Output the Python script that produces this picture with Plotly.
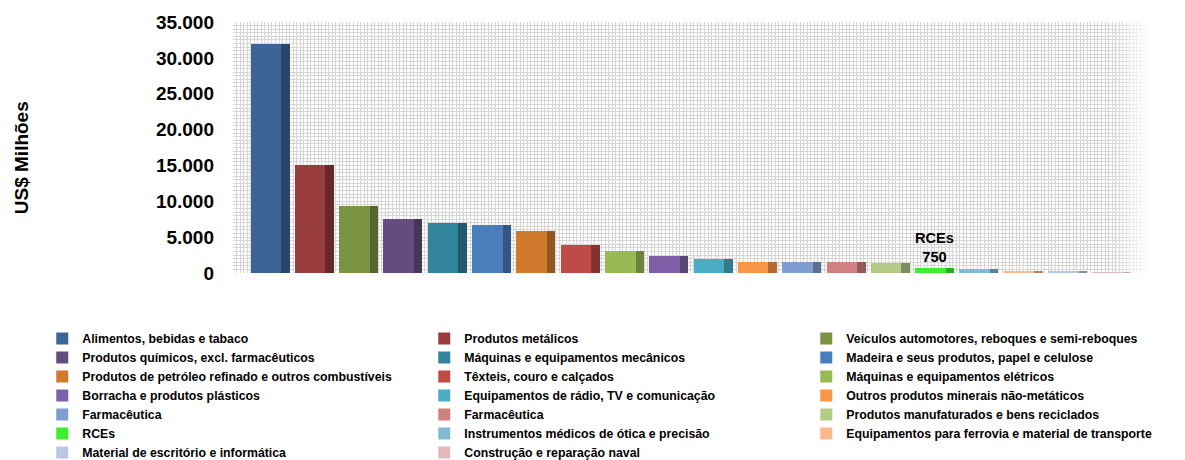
import plotly.graph_objects as go

# Sectors, in the order the bars are drawn (largest to smallest)
categories = [
    "Alimentos, bebidas e tabaco",
    "Produtos metálicos",
    "Veículos automotores, reboques e semi-reboques",
    "Produtos químicos, excl. farmacêuticos",
    "Máquinas e equipamentos mecânicos",
    "Madeira e seus produtos, papel e celulose",
    "Produtos de petróleo refinado e outros combustíveis",
    "Têxteis, couro e calçados",
    "Máquinas e equipamentos elétricos",
    "Borracha e produtos plásticos",
    "Equipamentos de rádio, TV e comunicação",
    "Outros produtos minerais não-metáticos",
    "Farmacêutica",
    "Farmacêutica",
    "Produtos manufaturados e bens reciclados",
    "RCEs",
    "Instrumentos médicos de ótica e precisão",
    "Equipamentos para ferrovia e material de transporte",
    "Material de escritório e informática",
    "Construção e reparação naval",
]

# Values in US$ millions
values = [31900, 15000, 9400, 7500, 7000, 6700, 5900, 3900, 3000, 2400,
          2000, 1500, 1500, 1500, 1350, 750, 600, 280, 180, 100]

# Sector highlighted with a data label
highlight = "RCEs"

y_ticks = [0, 5000, 10000, 15000, 20000, 25000, 30000, 35000]
y_title = "US$ Milhões"

# Front face and shaded side colours of each bar
face_colors = ["#3d6496", "#983c3c", "#7a9443", "#634d7e", "#31849a", "#4a7ebb",
               "#d07a2e", "#be4b48", "#98b954", "#7f60a8", "#4bacc6", "#f79646",
               "#7e9ecf", "#d08080", "#b3cb87", "#40ee30", "#7fbcd2", "#f9b98a",
               "#b9c8e2", "#e2b8b8"]
side_colors = ["#283f60", "#5e2323", "#4c5e29", "#3f3150", "#1f5463", "#2f5078",
               "#8a4f1c", "#7a2e2c", "#637937", "#52406d", "#2f7082", "#a8622d",
               "#526785", "#8a5353", "#758459", "#2a9c1f", "#53798a", "#a5795a",
               "#7a8496", "#958080"]

FONT = "Liberation Sans, Arial, sans-serif"

fig = go.Figure()

for i, (name, val, col) in enumerate(zip(categories, values, face_colors)):
    is_hl = name == highlight
    fig.add_trace(go.Bar(
        x=[i], y=[val], name=name,
        width=0.88, offset=-0.44,
        marker=dict(color=col, line=dict(width=0)),
        text=[f"<b>{name}<br>{val:,}</b>".replace(",", ".")] if is_hl else None,
        textposition="outside" if is_hl else "none",
        textfont=dict(family=FONT, size=15.5, color="#000000"),
        cliponaxis=False,
        legendgroup=f"g{i}",
        hovertemplate=f"{name}: %{{y:,}}<extra></extra>",
    ))

# Darker right-hand side of each bar for the bevelled look
for i, (val, col) in enumerate(zip(values, side_colors)):
    fig.add_trace(go.Bar(
        x=[i], y=[val], width=0.19, offset=0.25,
        marker=dict(color=col, line=dict(width=0), opacity=0.85),
        showlegend=False, legendgroup=f"g{i}", hoverinfo="skip",
    ))

# Soft fade at the right end of the plotting area
fade_steps = [0.15, 0.3, 0.45, 0.6, 0.75, 0.9]
for k, op in enumerate(fade_steps):
    x0 = 0.964 + k * 0.006
    fig.add_shape(type="rect", xref="x domain", yref="y domain",
                  x0=x0, x1=x0 + 0.0065 if k < len(fade_steps) - 1 else 1.0,
                  y0=0, y1=1, fillcolor="white", opacity=op,
                  line=dict(width=0), layer="above")

# Vertical axis title
fig.add_annotation(
    text=f"<b>{y_title}</b>", textangle=-90, showarrow=False,
    xref="paper", yref="paper", x=-0.231, y=0.458,
    xanchor="center", yanchor="middle",
    font=dict(family=FONT, size=19, color="#000000"),
)

fig.update_layout(
    width=1185, height=460,
    margin=dict(l=233, r=35, t=22, b=187, autoexpand=False),
    paper_bgcolor="white", plot_bgcolor="white",
    barmode="overlay", bargap=0,
    separators=",.",
    font=dict(family=FONT, color="#000000"),
    showlegend=True,
    legend=dict(
        orientation="h", x=-0.208, xanchor="left", y=-0.203, yanchor="top",
        entrywidth=337, entrywidthmode="pixels",
        font=dict(family=FONT, size=12.3, color="#000000", weight="bold"),
        traceorder="normal", itemclick=False, itemdoubleclick=False,
        bgcolor="rgba(0,0,0,0)",
    ),
    xaxis=dict(
        range=[-0.835, 19.86], showticklabels=False, ticks="",
        showgrid=False, zeroline=False, showline=False,
        minor=dict(dtick=0.08, tick0=-0.835, showgrid=True,
                   gridcolor="#d6d6d6", gridwidth=1),
    ),
    yaxis=dict(
        range=[0, 35000], tickvals=y_ticks, tickformat=",.0f",
        tickfont=dict(family=FONT, size=19, color="#000000", weight="bold"),
        ticklabelstandoff=18,
        showgrid=False, zeroline=False, showline=False, ticks="",
        minor=dict(dtick=500, showgrid=True, gridcolor="#d6d6d6", gridwidth=1),
    ),
)

fig.write_html("out.html")
